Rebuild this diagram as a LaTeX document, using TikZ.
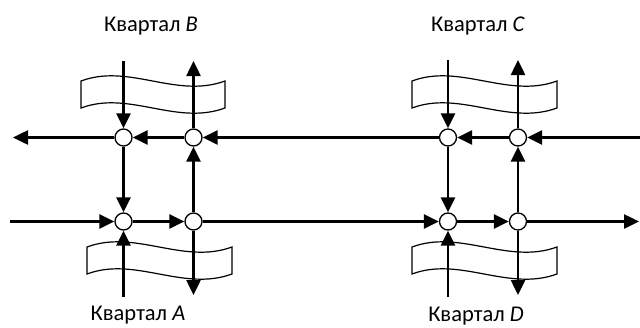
\documentclass[tikz,border=0pt]{standalone}
\usepackage{fontspec}
\setmainfont{Carlito}
\usetikzlibrary{arrows.meta}
\begin{document}
\begin{tikzpicture}[x=1pt,y=-1pt,
  flow/.style={line width=2.5pt,-{Triangle[length=15pt,width=14pt]}},
  junc/.style={circle,draw,line width=1.3pt,fill=white,minimum size=17pt,inner sep=0pt},
  banner/.style={draw,fill=white,line width=1.2pt},
  lbl/.style={font=\fontsize{22.5}{26}\selectfont,inner sep=0pt,anchor=base}]
\path[use as bounding box] (0,0) rectangle (640,327);
% banners
\draw[banner] (81,81) .. controls +(48,-18) and +(-49,18) .. (225,81) -- (225,108)
  .. controls +(-49,18) and +(48,-18) .. (81,108) -- cycle;
\draw[banner] (412,81) .. controls +(48,-18) and +(-49,18) .. (557,81) -- (557,108)
  .. controls +(-49,18) and +(48,-18) .. (412,108) -- cycle;
\draw[banner] (87,247) .. controls +(48,-18) and +(-49,18) .. (232,247) -- (232,274)
  .. controls +(-49,18) and +(48,-18) .. (87,274) -- cycle;
\draw[banner] (412,247) .. controls +(48,-18) and +(-49,18) .. (557,247) -- (557,274)
  .. controls +(-49,18) and +(48,-18) .. (412,274) -- cycle;
% junctions
\node[junc] (b1) at (123.5,137.5) {};
\node[junc] (b2) at (193.5,137.5) {};
\node[junc] (a1) at (123.5,221.5) {};
\node[junc] (a2) at (193.5,221.5) {};
\node[junc] (c1) at (448,137.5) {};
\node[junc] (c2) at (518,137.5) {};
\node[junc] (d1) at (448,221.5) {};
\node[junc] (d2) at (518,221.5) {};
% free ends
\coordinate (tr) at (640,137.5);
\coordinate (tl) at (13,137.5);
\coordinate (bl) at (10,221.5);
\coordinate (br) at (639,221.5);
\coordinate (b1t) at (123.5,61);
\coordinate (a1b) at (123.5,297);
\coordinate (b2t) at (193.5,61);
\coordinate (a2b) at (193.5,295);
\coordinate (c1t) at (448,60);
\coordinate (d1b) at (448,297);
\coordinate (c2t) at (518,60);
\coordinate (d2b) at (518,295);
% top row (right to left)
\draw[flow] (tr) -- (c2);
\draw[flow] (c2) -- (c1);
\draw[flow] (c1) -- (b2);
\draw[flow] (b2) -- (b1);
\draw[flow] (b1) -- (tl);
% bottom row (left to right)
\draw[flow] (bl) -- (a1);
\draw[flow] (a1) -- (a2);
\draw[flow] (a2) -- (d1);
\draw[flow] (d1) -- (d2);
\draw[flow] (d2) -- (br);
% verticals left pair
\draw[flow] (b1t) -- (b1);
\draw[flow] (b1) -- (a1);
\draw[flow] (a1b) -- (a1);
\draw[flow] (a2) -- (b2);
\draw[flow] (b2) -- (b2t);
\draw[flow] (a2) -- (a2b);
% verticals right pair
\draw[flow] (c1t) -- (c1);
\draw[flow] (c1) -- (d1);
\draw[flow] (d1b) -- (d1);
\draw[flow] (d2) -- (c2);
\draw[flow] (c2) -- (c2t);
\draw[flow] (d2) -- (d2b);
% labels
\node[lbl] (lB) at (151,31) {Квартал \textit{B}};
\node[lbl] (lC) at (478,31) {Квартал \textit{C}};
\node[lbl] (lA) at (138,320) {Квартал \textit{A}};
\node[lbl] (lD) at (476,321) {Квартал \textit{D}};
\end{tikzpicture}
\end{document}
